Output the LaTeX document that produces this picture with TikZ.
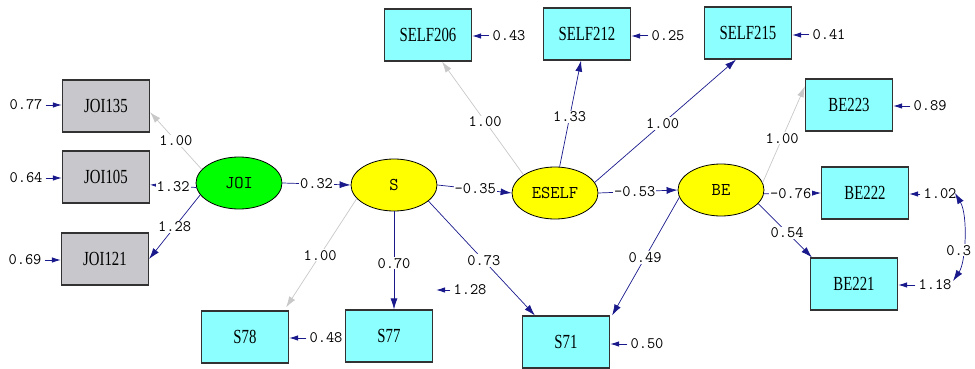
\documentclass[tikz,border=0pt]{standalone}
\usepackage{fontspec}
\newfontfamily\boxfont[FakeStretch=0.74]{Liberation Serif}
\usetikzlibrary{arrows.meta,calc,shapes.geometric}
\definecolor{pathblue}{RGB}{25,25,140}
\definecolor{fixgray}{RGB}{200,200,200}
\definecolor{boxcyan}{RGB}{140,255,255}
\definecolor{boxgray}{RGB}{200,200,204}
\definecolor{latgreen}{RGB}{0,255,0}
\definecolor{latyellow}{RGB}{255,255,0}
\definecolor{edgedark}{RGB}{50,50,50}
\tikzset{
  obs/.style={draw=edgedark, line width=1.2pt, minimum width=87pt, minimum height=52pt, inner sep=0pt, font=\boxfont\fontsize{20}{20}\selectfont},
  cyanbox/.style={obs, fill=boxcyan},
  graybox/.style={obs, fill=boxgray},
  lat/.style={ellipse, draw=black, line width=0.8pt, minimum width=86pt, minimum height=52pt, inner sep=0pt, font=\ttfamily\fontsize{18}{18}\selectfont},
  lbl/.style={font=\ttfamily\fontsize{16}{16}\selectfont, inner sep=1pt, fill=white},
  estpath/.style={draw=pathblue, line width=0.7pt, -{Latex[length=11pt,width=7pt]}},
  fixpath/.style={draw=fixgray, line width=0.7pt, -{Latex[length=11pt,width=7pt]}},
  res/.style={draw=pathblue, line width=1pt, shorten <=2pt, -{Latex[length=9pt,width=5.5pt]}},
}
\begin{document}
\begin{tikzpicture}[x=1pt,y=-1pt]
\useasboundingbox (0,0) rectangle (975,369);
% observed
\node[graybox] (JOI135) at (106,106) {JOI135};
\node[graybox] (JOI105) at (106,177) {JOI105};
\node[graybox] (JOI121) at (105,259) {JOI121};
\node[cyanbox] (SELF206) at (428,35) {SELF206};
\node[cyanbox] (SELF212) at (587,34) {SELF212};
\node[cyanbox] (SELF215) at (748,33) {SELF215};
\node[cyanbox] (BE223) at (849,105) {BE223};
\node[cyanbox] (BE222) at (865,193) {BE222};
\node[cyanbox] (BE221) at (854,284) {BE221};
\node[cyanbox] (S78) at (245,337) {S78};
\node[cyanbox] (S77) at (389,336) {S77};
\node[cyanbox] (S71) at (566,342) {S71};
% latent
\node[lat, fill=latgreen] (JOI) at (239,183) {JOI};
\node[lat, fill=latyellow] (S) at (394,185) {S};
\node[lat, fill=latyellow] (ESELF) at (555,193) {ESELF};
\node[lat, fill=latyellow] (BE) at (721,190) {BE};
% paths
\draw[fixpath] (JOI.160) -- node[lbl,pos=0.5]{1.00} (JOI135.-8);
\draw[estpath] (JOI.186) -- node[lbl,pos=0.5]{1.32} (JOI105.-10);
\draw[estpath] (JOI.197) -- node[lbl,pos=0.5]{1.28} (JOI121.east);
\draw[estpath] (JOI.east) -- node[lbl,pos=0.5]{0.32} (S.west);
\draw[estpath] (S.east) -- node[lbl,pos=0.51]{-0.35} (ESELF.west);
\draw[estpath] (ESELF.east) -- node[lbl,pos=0.46]{-0.53} (BE.west);
\draw[fixpath] (S.200) -- node[lbl,pos=0.52]{1.00} ([xshift=-3pt,yshift=3pt]S78.north east);
\draw[estpath] (S.south) -- node[lbl,pos=0.53]{0.70} (S.south |- S77.north);
\draw[estpath] (S.-25) -- node[lbl,pos=0.52]{0.73} ([xshift=13pt]S71.north west);
\draw[estpath] (BE.190) -- node[lbl,pos=0.51]{0.49} ([xshift=2pt]S71.north east);
\draw[fixpath] (ESELF.150) -- node[lbl,pos=0.47]{1.00} ([xshift=14pt]SELF206.south);
\draw[estpath] (ESELF.80) -- node[lbl,pos=0.47]{1.33} ([xshift=-6pt]SELF212.south);
\draw[estpath] (ESELF.15) -- node[lbl,pos=0.48]{1.00} ([xshift=-12pt]SELF215.south);
\draw[fixpath] (BE.10) -- node[lbl,pos=0.46]{1.00} (BE223.157);
\draw[estpath] (BE.-5) -- node[lbl,pos=0.47]{-0.76} (BE222.west);
\draw[estpath] (BE.-20) -- node[lbl,pos=0.54]{0.54} ([xshift=2pt]BE221.north west);
% residuals
\node[lbl] (r135) at (26,105) {0.77};
\node[lbl] (r105) at (26,178) {0.64};
\node[lbl] (r121) at (25,260) {0.69};
\draw[res] (r135.east) -- (r135.east -| JOI135.west);
\draw[res] (r105.east) -- (r105.east -| JOI105.west);
\draw[res] (r121.east) -- (r121.east -| JOI121.west);
\node[lbl] (r206) at (509,36) {0.43};
\node[lbl] (r212) at (668,36) {0.25};
\node[lbl] (r215) at (829,35) {0.41};
\node[lbl] (r223) at (930,106) {0.89};
\node[lbl] (r222) at (940,194) {1.02};
\node[lbl] (r221) at (935,285) {1.18};
\node[lbl] (r71) at (647,344) {0.50};
\node[lbl] (r78) at (326,338) {0.48};
\draw[res] (r206.west) -- (r206.west -| SELF206.east);
\draw[res] (r212.west) -- (r212.west -| SELF212.east);
\draw[res] (r215.west) -- (r215.west -| SELF215.east);
\draw[res] (r223.west) -- (r223.west -| BE223.east);
\draw[res] (r222.west) -- (r222.west -| BE222.east);
\draw[res] (r221.west) -- (r221.west -| BE221.east);
\draw[res] (r71.west) -- (r71.west -| S71.east);
\draw[res] (r78.west) -- (r78.west -| S78.east);
\node[lbl] (r77) at (470,290) {1.28};
\coordinate (r77end) at (436,288);
\draw[res] (r77.west) -- (r77.west -| r77end);
% covariance
\coordinate (c1) at (955,193);
\coordinate (c2) at (953,281);
\draw[draw=pathblue, line width=0.7pt, {Latex[length=11pt,width=7pt]}-{Latex[length=11pt,width=7pt]}] (c1) .. controls (968,215) and (966,262) .. node[lbl,pos=0.62,xshift=-4pt]{0.3} (c2);
\end{tikzpicture}
\end{document}
